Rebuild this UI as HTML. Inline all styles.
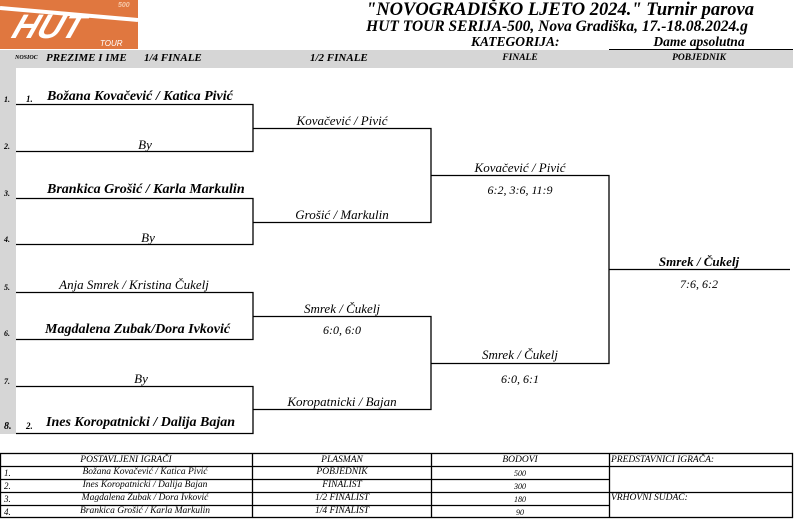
<!DOCTYPE html>
<html><head><meta charset="utf-8"><style>
body{margin:0;width:800px;height:524px;background:#fff;position:relative;overflow:hidden;font-family:"Liberation Serif",serif;font-style:italic;color:#000}
.t{position:absolute;white-space:nowrap;line-height:1}
.c{transform:translateX(-50%)}
.b{font-weight:bold}
</style></head><body>
<div style="position:absolute;left:0;top:0;width:138px;height:49px;background:#e0773f"></div>
<svg style="position:absolute;left:0;top:0" width="138" height="49">
<path d="M0 8 L138 20" stroke="#fff" stroke-width="4" fill="none"/>
<text x="12" y="38" font-family="Liberation Sans" font-style="italic" font-weight="bold" font-size="34" fill="#fff" transform="skewX(-20) translate(12 0)">HUT</text>
<text x="118" y="7" font-family="Liberation Sans" font-weight="bold" font-size="7" fill="#f6c8a8">500</text>
<text x="100" y="46" font-family="Liberation Sans" font-size="8" fill="#fff">TOUR</text>
</svg>
<div class="t c b" style="left:560px;top:1px;font-size:18.5px">"NOVOGRADIŠKO LJETO 2024." Turnir parova</div>
<div class="t c b" style="left:557px;top:19px;font-size:15.5px">HUT TOUR SERIJA-500, Nova Gradiška, 17.-18.08.2024.g</div>
<div class="t b" style="left:471px;top:35px;font-size:13.5px">KATEGORIJA:</div>
<div class="t c b" style="left:699px;top:35px;font-size:13.5px">Dame apsolutna</div>
<div style="position:absolute;left:609px;top:49px;width:184px;height:1px;background:#000"></div>
<div style="position:absolute;left:0;top:50px;width:793px;height:18px;background:#d6d6d6"></div>
<div style="position:absolute;left:0;top:50px;width:16px;height:384px;background:#d6d6d6"></div>
<div class="t b" style="left:15px;top:55px;font-size:6px">NOSIOC</div>
<div class="t b" style="left:46px;top:53px;font-size:11px">PREZIME I IME</div>
<div class="t b" style="left:144px;top:53px;font-size:11px">1/4 FINALE</div>
<div class="t b" style="left:310px;top:53px;font-size:11px">1/2 FINALE</div>
<div class="t c b" style="left:520px;top:54px;font-size:9.5px">FINALE</div>
<div class="t c b" style="left:699px;top:54px;font-size:9.5px">POBJEDNIK</div>
<svg style="position:absolute;left:0;top:0" width="800" height="524" fill="none" stroke="#000" stroke-width="1.3">
<path d="M16 104.5H253V151.5H16M16 198.5H253V244.5H16M16 292.5H253V339.5H16M16 386.5H253V433.5H16"/>
<path d="M253 128.5H431V222.5H253M253 316.5H431V409.5H253"/>
<path d="M431 175.5H609V363.5H431M609 269.5H790"/>
<rect x="0.5" y="453.5" width="792" height="64"/>
<path d="M0 466.5H793M0 479.5H609M0 492.5H793M0 505.5H609M252.5 453V518M431.5 453V518M609.5 453V518"/>
</svg>
<div class="t b" style="left:4px;top:96px;font-size:8px">1.</div>
<div class="t b" style="left:4px;top:143px;font-size:8px">2.</div>
<div class="t b" style="left:4px;top:190px;font-size:8px">3.</div>
<div class="t b" style="left:4px;top:236px;font-size:8px">4.</div>
<div class="t b" style="left:4px;top:284px;font-size:8px">5.</div>
<div class="t b" style="left:4px;top:330px;font-size:8px">6.</div>
<div class="t b" style="left:4px;top:378px;font-size:8px">7.</div>
<div class="t b" style="left:4px;top:422px;font-size:10px">8.</div>
<div class="t b" style="left:26px;top:95px;font-size:9px">1.</div>
<div class="t b" style="left:47px;top:90px;font-size:14px">Božana Kovačević / Katica Pivić</div>
<div class="t c" style="left:145px;top:138px;font-size:13px">By</div>
<div class="t b" style="left:47px;top:183px;font-size:14px">Brankica Grošić / Karla Markulin</div>
<div class="t c" style="left:148px;top:231px;font-size:13px">By</div>
<div class="t c" style="left:134px;top:278px;font-size:13px">Anja Smrek / Kristina Čukelj</div>
<div class="t b" style="left:45px;top:323px;font-size:14px">Magdalena Zubak/Dora Ivković</div>
<div class="t c" style="left:141px;top:372px;font-size:13px">By</div>
<div class="t b" style="left:26px;top:422px;font-size:9px">2.</div>
<div class="t b" style="left:46px;top:416px;font-size:14px">Ines Koropatnicki / Dalija Bajan</div>
<div class="t c" style="left:342px;top:114px;font-size:13px">Kovačević / Pivić</div>
<div class="t c" style="left:342px;top:208px;font-size:13px">Grošić / Markulin</div>
<div class="t c" style="left:342px;top:302px;font-size:13px">Smrek / Čukelj</div>
<div class="t c" style="left:342px;top:324px;font-size:12px">6:0, 6:0</div>
<div class="t c" style="left:342px;top:395px;font-size:13px">Koropatnicki / Bajan</div>
<div class="t c" style="left:520px;top:161px;font-size:13px">Kovačević / Pivić</div>
<div class="t c" style="left:520px;top:184px;font-size:12px">6:2, 3:6, 11:9</div>
<div class="t c" style="left:520px;top:348px;font-size:13px">Smrek / Čukelj</div>
<div class="t c" style="left:520px;top:373px;font-size:12px">6:0, 6:1</div>
<div class="t c b" style="left:699px;top:255px;font-size:13px">Smrek / Čukelj</div>
<div class="t c" style="left:699px;top:278px;font-size:12px">7:6, 6:2</div>
<div class="t c" style="left:126px;top:456px;font-size:9.5px">POSTAVLJENI IGRAČI</div>
<div class="t c" style="left:342px;top:456px;font-size:9.5px">PLASMAN</div>
<div class="t c" style="left:520px;top:456px;font-size:9.5px">BODOVI</div>
<div class="t" style="left:611px;top:456px;font-size:9.5px">PREDSTAVNICI IGRAČA:</div>
<div class="t" style="left:4px;top:469px;font-size:9px">1.</div>
<div class="t" style="left:4px;top:482px;font-size:9px">2.</div>
<div class="t" style="left:4px;top:495px;font-size:9px">3.</div>
<div class="t" style="left:4px;top:508px;font-size:9px">4.</div>
<div class="t c" style="left:145px;top:468px;font-size:9.5px">Božana Kovačević / Katica Pivić</div>
<div class="t c" style="left:145px;top:481px;font-size:9.5px">Ines Koropatnicki / Dalija Bajan</div>
<div class="t c" style="left:145px;top:494px;font-size:9.5px">Magdalena Zubak / Dora Ivković</div>
<div class="t c" style="left:145px;top:507px;font-size:9.5px">Brankica Grošić / Karla Markulin</div>
<div class="t c" style="left:342px;top:468px;font-size:9.5px">POBJEDNIK</div>
<div class="t c" style="left:342px;top:481px;font-size:9.5px">FINALIST</div>
<div class="t c" style="left:342px;top:494px;font-size:9.5px">1/2 FINALIST</div>
<div class="t c" style="left:342px;top:507px;font-size:9.5px">1/4 FINALIST</div>
<div class="t c" style="left:520px;top:470px;font-size:8px">500</div>
<div class="t c" style="left:520px;top:483px;font-size:8px">300</div>
<div class="t c" style="left:520px;top:496px;font-size:8px">180</div>
<div class="t c" style="left:520px;top:509px;font-size:8px">90</div>
<div class="t" style="left:611px;top:494px;font-size:9.5px">VRHOVNI SUDAC:</div>
</body></html>
